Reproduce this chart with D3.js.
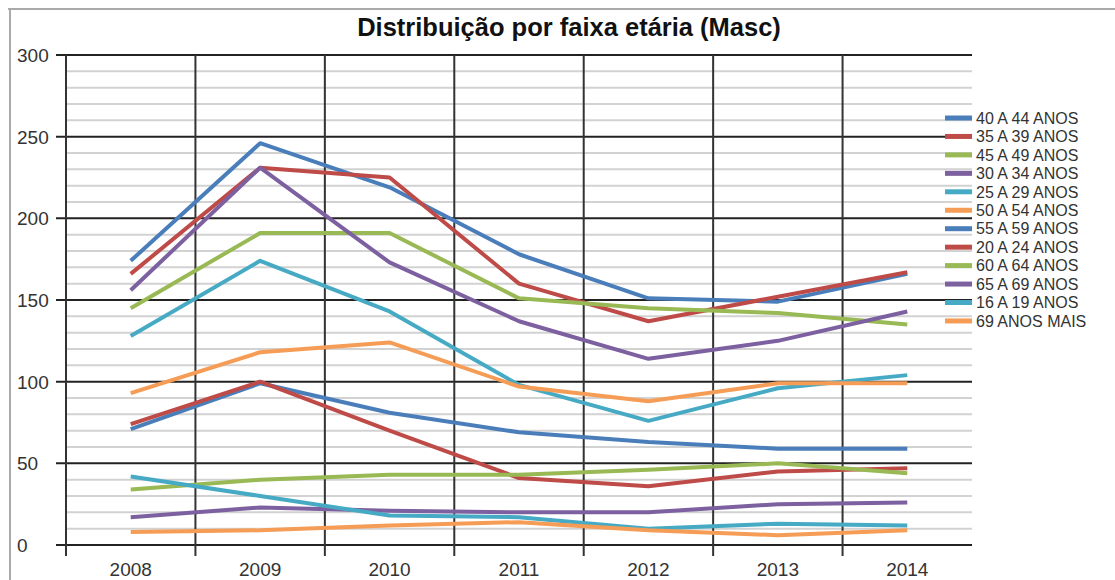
<!DOCTYPE html>
<html>
<head>
<meta charset="utf-8">
<script src="https://cdn.jsdelivr.net/npm/d3@7"></script>
<style>
  html, body { margin: 0; padding: 0; background: #fff; }
  svg { display: block; }
</style>
</head>
<body>
<svg id="chart" width="1115" height="580"></svg>
<script>
const title = "Distribuição por faixa etária (Masc)";
const years = ["2008", "2009", "2010", "2011", "2012", "2013", "2014"];
const seriesNames = [
  "40 A 44 ANOS", "35 A 39 ANOS", "45 A 49 ANOS", "30 A 34 ANOS",
  "25 A 29 ANOS", "50 A 54 ANOS", "55 A 59 ANOS", "20 A 24 ANOS",
  "60 A 64 ANOS", "65 A 69 ANOS", "16 A 19 ANOS", "69 ANOS MAIS"
];
const s40_44 = [174, 246, 219, 178, 151, 149, 166];
const s35_39 = [166, 231, 225, 160, 137, 152, 167];
const s45_49 = [145, 191, 191, 151, 145, 142, 135];
const s30_34 = [156, 231, 173, 137, 114, 125, 143];
const s25_29 = [128, 174, 143, 98, 76, 96, 104];
const s50_54 = [93, 118, 124, 97, 88, 99, 99];
const s55_59 = [71, 99, 81, 69, 63, 59, 59];
const s20_24 = [74, 100, 70, 41, 36, 45, 47];
const s60_64 = [34, 40, 43, 43, 46, 50, 44];
const s65_69 = [17, 23, 21, 20, 20, 25, 26];
const s16_19 = [42, 30, 18, 17, 10, 13, 12];
const s69mais = [8, 9, 12, 14, 9, 6, 9];
const seriesValues = [s40_44, s35_39, s45_49, s30_34, s25_29, s50_54,
                      s55_59, s20_24, s60_64, s65_69, s16_19, s69mais];
const yMajorTicks = [0, 50, 100, 150, 200, 250, 300];
const yMinorTicks = d3.range(0, 301, 10);

const palette = ["#4a7ebb", "#be4b48", "#98b954", "#7d60a0", "#46aac5", "#f59d56"];

const svg = d3.select("#chart");
const pLeft = 66, pRight = 972, pTop = 55, pBottom = 545;

const x = d3.scaleBand().domain(years).range([pLeft, pRight]);
const y = d3.scaleLinear().domain([0, 300]).range([pBottom, pTop]);
const color = d3.scaleOrdinal().domain(seriesNames).range(palette.concat(palette));

// frame border
svg.append("line").attr("x1", 8).attr("x2", 1115).attr("y1", 9).attr("y2", 9)
  .attr("stroke", "#aaa").attr("stroke-width", 2);
svg.append("line").attr("x1", 10).attr("x2", 10).attr("y1", 9).attr("y2", 580)
  .attr("stroke", "#aaa").attr("stroke-width", 2);

// title
svg.append("text").attr("x", 569).attr("y", 36).attr("text-anchor", "middle")
  .attr("font-family", "Liberation Sans, Arial, sans-serif")
  .attr("font-weight", "bold").attr("font-size", 25.5).attr("fill", "#111")
  .text(title);

// minor grid
svg.append("g").selectAll("line")
  .data(yMinorTicks.filter(v => v % 50 !== 0))
  .join("line")
  .attr("x1", pLeft).attr("x2", pRight)
  .attr("y1", d => y(d)).attr("y2", d => y(d))
  .attr("stroke", "#d2d2d2").attr("stroke-width", 2);

// major grid
svg.append("g").selectAll("line")
  .data(yMajorTicks)
  .join("line")
  .attr("x1", pLeft - 10).attr("x2", pRight)
  .attr("y1", d => y(d)).attr("y2", d => y(d))
  .attr("stroke", "#222").attr("stroke-width", 2);

// vertical grid (band boundaries)
svg.append("g").selectAll("line")
  .data(years)
  .join("line")
  .attr("x1", d => x(d)).attr("x2", d => x(d))
  .attr("y1", pTop).attr("y2", pBottom + 11)
  .attr("stroke", "#333").attr("stroke-width", 2);

// y labels
svg.append("g").selectAll("text")
  .data(yMajorTicks)
  .join("text")
  .attr("x", 17).attr("y", d => y(d)).attr("dy", "0.36em")
  .attr("font-family", "Liberation Sans, Arial, sans-serif")
  .attr("font-size", 19).attr("fill", "#333")
  .text(d => d);

// x labels
svg.append("g").selectAll("text")
  .data(years)
  .join("text")
  .attr("x", d => x(d) + x.bandwidth() / 2).attr("y", 576)
  .attr("text-anchor", "middle")
  .attr("font-family", "Liberation Sans, Arial, sans-serif")
  .attr("font-size", 19).attr("fill", "#333")
  .text(d => d);

// lines
const line = d3.line()
  .x((d, i) => x(years[i]) + x.bandwidth() / 2)
  .y(d => y(d));

svg.append("g").selectAll("path")
  .data(seriesNames.map((n, i) => ({ name: n, values: seriesValues[i] })))
  .join("path")
  .attr("d", d => line(d.values))
  .attr("fill", "none")
  .attr("stroke", d => color(d.name))
  .attr("stroke-width", 4)
  .attr("stroke-linejoin", "round");

// legend
const legend = svg.append("g");
const lg = legend.selectAll("g")
  .data(seriesNames)
  .join("g")
  .attr("transform", (d, i) => `translate(945, ${118 + i * 18.45})`);
lg.append("line").attr("x1", 0).attr("x2", 27).attr("y1", 0).attr("y2", 0)
  .attr("stroke", d => color(d)).attr("stroke-width", 5);
lg.append("text").attr("x", 31).attr("y", 0).attr("dy", "0.36em")
  .attr("font-family", "Liberation Sans, Arial, sans-serif")
  .attr("font-size", 16).attr("fill", "#333")
  .text(d => d);
</script>
</body>
</html>
